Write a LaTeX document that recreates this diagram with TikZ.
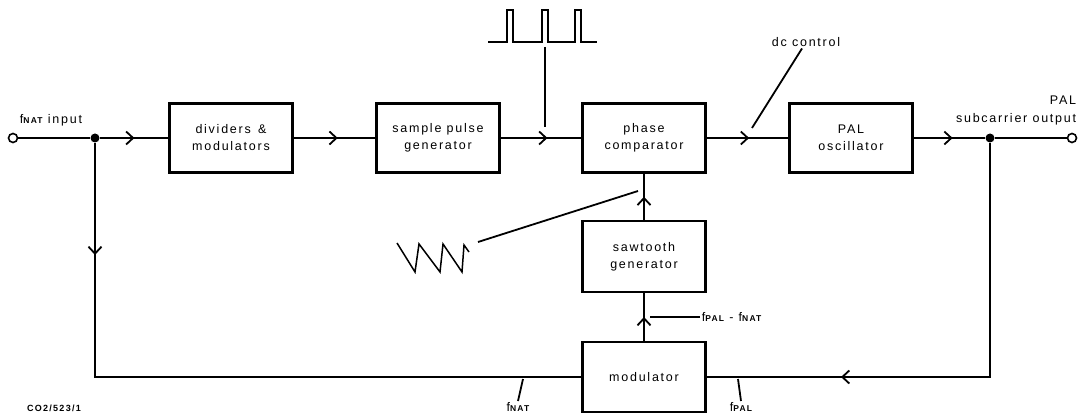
\documentclass[tikz,border=0pt]{standalone}
\usepackage{fontspec}
\setmainfont[LetterSpace=14]{Liberation Sans}
\usetikzlibrary{arrows.meta,decorations.markings}

\newcommand{\fsig}[1]{f{\fontsize{8.5}{8.5}\selectfont\bfseries #1}}

\begin{document}
\begin{tikzpicture}[
    x=1pt,
    y=-1pt,
    line width=1.8pt,
    block/.style={draw, line width=2.1pt, minimum width=123pt, minimum height=69pt,
        align=center, font=\fontsize{12.5}{17}\selectfont},
    lbl/.style={font=\fontsize{12.5}{14}\selectfont, inner sep=1pt},
    flowat/.style={postaction={decorate}, decoration={markings,
        mark=at position #1 with {\arrow{Straight Barb[length=7pt,width=13pt,line width=1.8pt]}}}},
    terminal/.style={draw, circle, fill=white, inner sep=0pt, minimum size=9pt, line width=1.6pt},
    joint/.style={circle, fill, inner sep=0pt, minimum size=9pt}
]
\useasboundingbox (0,0) rectangle (1081,414);

% Blocks
\node[block] (div) at (231,138) {dividers \,\&\\modulators};
\node[block] (spg) at (438,138) {sample pulse\\generator};
\node[block] (pc)  at (644,138) {phase\\comparator};
\node[block] (osc) at (851,138) {PAL\\oscillator};
\node[block, minimum height=71pt] (saw) at (644,256.5) {sawtooth\\generator};
\node[block, minimum height=70pt] (mod) at (644,377) {modulator};

% Input and output
\node[terminal] (in)  at (13,138) {};
\node[joint]    (j1)  at (95,138) {};
\node[joint]    (j2)  at (990,138) {};
\node[terminal] (out) at (1072,138) {};
\node[lbl] (inlbl) at (51,120) {\fsig{NAT} input};
\node[lbl, anchor=east] (pallbl) at (1078,100) {PAL};
\node[lbl, anchor=east] (sublbl) at (1078,119) {subcarrier output};

% Forward path
\draw (in) -- (j1);
\draw[flowat=0.5]  (j1) -- (div);
\draw[flowat=0.54] (div) -- (spg);
\draw[flowat=0.58] (spg) -- (pc);
\draw[flowat=0.52] (pc) -- (osc);
\draw[flowat=0.55] (osc) -- (j2);
\draw (j2) -- (out);

% Loop through the modulator
\draw[flowat=0.155] (j1) |- (mod);
\draw[flowat=0.74]  (j2) |- (mod);
\draw[flowat=0.5] (mod) -- (saw);
\draw[flowat=0.5] (saw) -- (pc);

% Sample pulses
\draw[line width=1.5pt] (488,42) foreach \p in {507,542,575} {
    -- (\p,42) -- (\p,10) -- (\p+6,10) -- (\p+6,42)} -- (597,42);
\coordinate (pulsetop) at (545,47);
\coordinate (pulsebot) at (545,127);
\draw (pulsetop) -- (pulsebot);

% Sawtooth wave
\draw[line width=1.5pt] (397,243) -- (415,272) -- (419,244) -- (440,272) -- (443,244)
    -- (462,272) -- (464,245) -- (469,252);
\coordinate (sawfrom) at (478,242);
\coordinate (sawto) at (638,191);
\draw (sawfrom) -- (sawto);

% dc control
\node[lbl] (dc) at (806,42) {dc control};
\coordinate (dctip) at (752,128);
\draw ([xshift=-4pt]dc.south) -- (dctip);

% Frequency labels
\node[lbl, anchor=west] (diff) at (700,317) {\fsig{PAL} - \fsig{NAT}};
\draw (diff.west) -- (650,317);
\node[lbl, anchor=north] (fnat) at (518,401) {\fsig{NAT}};
\draw (fnat.north) -- (523,379);
\node[lbl, anchor=north] (fpal) at (741,401) {\fsig{PAL}};
\draw (fpal.north) -- (738,379);

\node[font=\fontsize{9}{9}\selectfont\bfseries] (ref) at (54,408) {CO2/523/1};

\end{tikzpicture}
\end{document}
